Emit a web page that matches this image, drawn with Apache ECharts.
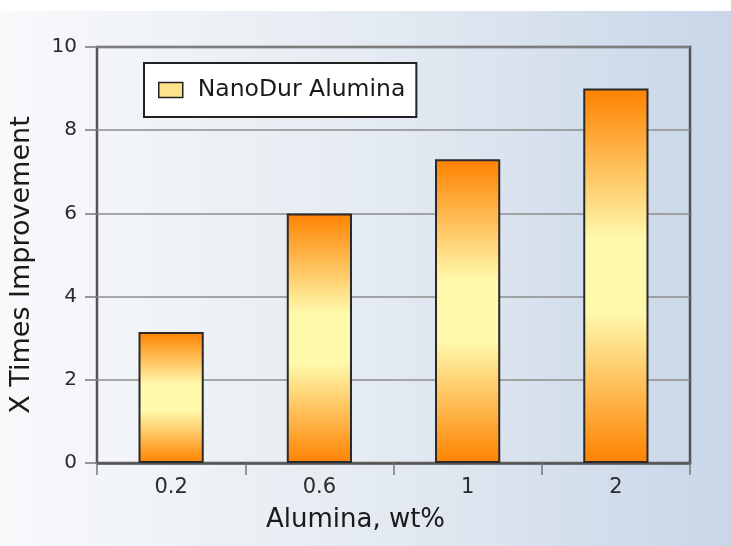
<!DOCTYPE html>
<html>
<head>
<meta charset="utf-8">
<script src="https://cdn.jsdelivr.net/npm/echarts@6/dist/echarts.min.js"></script>
<style>
html,body{margin:0;padding:0;background:#ffffff;}
#chart{position:absolute;left:0;top:11px;width:731px;height:535px;}
</style>
</head>
<body>
<div id="chart"></div>
<script>
var categories = ['0.2', '0.6', '1', '2'];
var values = [3.15, 6.0, 7.3, 9.0];
var seriesName = 'NanoDur Alumina';
var xAxisTitle = 'Alumina, wt%';
var yAxisTitle = 'X Times Improvement';

var FONT = 'DejaVu Sans';
var chart = echarts.init(document.getElementById('chart'), null, {renderer: 'canvas'});
var barGrad = new echarts.graphic.LinearGradient(0, 0, 0, 1, [
  {offset: 0, color: '#ff8200'},
  {offset: 0.4, color: '#fff9ac'},
  {offset: 0.6, color: '#fff9ac'},
  {offset: 1, color: '#ff8200'}
]);
chart.setOption({
  backgroundColor: new echarts.graphic.LinearGradient(0, 0, 1, 0, [
    {offset: 0, color: '#f8f9fb'},
    {offset: 0.5, color: '#e5ebf2'},
    {offset: 1, color: '#c8d6e8'}
  ]),
  animation: false,
  grid: {
    left: 97, right: 41, top: 36, bottom: 83,
    show: true, borderColor: '#555', borderWidth: 2.5, backgroundColor: 'transparent'
  },
  legend: {
    left: 144, top: 52,
    backgroundColor: '#ffffff',
    borderColor: '#222', borderWidth: 2,
    padding: [15, 11, 15, 14],
    itemWidth: 24, itemHeight: 15, itemGap: 10, itemTextGap: 5,
    textStyle: {fontFamily: FONT, fontSize: 23.5, color: '#1a1a1a', padding: [0, 0, 0, 10]},
    data: [{name: seriesName, icon: 'rect', itemStyle: {color: '#fbe38c', borderColor: '#222', borderWidth: 1.5}}]
  },
  xAxis: {
    type: 'category',
    data: categories,
    name: xAxisTitle,
    nameLocation: 'middle',
    nameGap: 44,
    nameTextStyle: {fontFamily: FONT, fontSize: 26, color: '#1a1a1a', padding: [0, 76, 0, 0]},
    axisLine: {show: true, lineStyle: {color: '#555', width: 2.5}},
    axisTick: {show: true, alignWithLabel: false, length: 12, lineStyle: {color: '#777', width: 1.5}},
    axisLabel: {fontFamily: FONT, fontSize: 21, color: '#2a2a2a', margin: 14},
    splitLine: {show: false}
  },
  yAxis: {
    type: 'value',
    min: 0, max: 10, interval: 2,
    name: yAxisTitle,
    nameLocation: 'middle',
    nameGap: 62,
    nameTextStyle: {fontFamily: FONT, fontSize: 27, color: '#1a1a1a', padding: [0, 20, 0, 0]},
    axisLine: {show: false},
    axisTick: {show: true, length: 12, lineStyle: {color: '#777', width: 1.5}},
    axisLabel: {fontFamily: FONT, fontSize: 20, color: '#2a2a2a', margin: 20},
    splitLine: {show: true, lineStyle: {color: '#8c8c8c', width: 1.5}}
  },
  series: [{
    name: seriesName,
    type: 'bar',
    data: values,
    barWidth: '44%',
    itemStyle: {color: barGrad, borderColor: '#2a2a2a', borderWidth: 2}
  }]
});
</script>
</body>
</html>
